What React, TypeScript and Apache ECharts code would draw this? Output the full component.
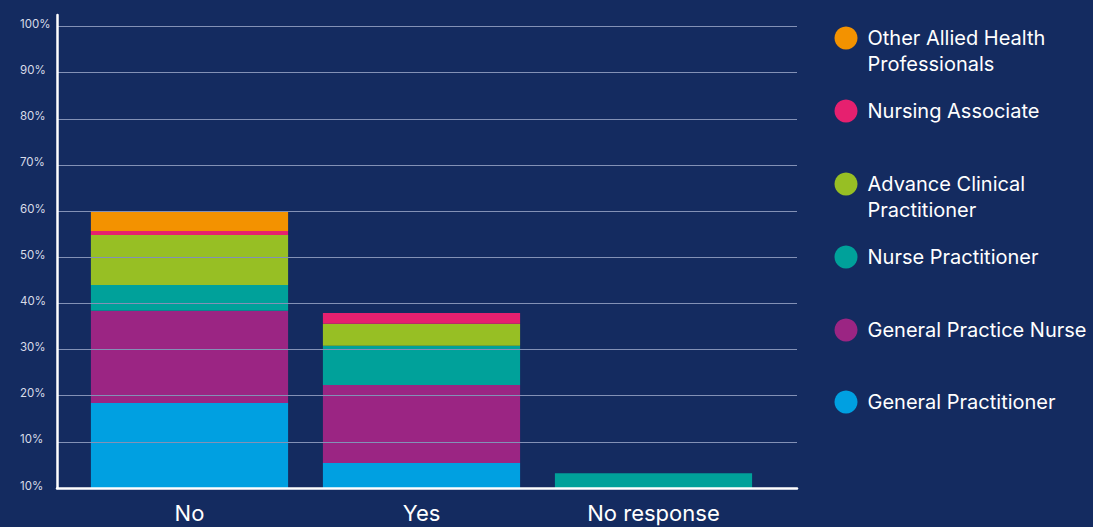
import React, { useEffect, useRef } from "react";
import * as echarts from "echarts";

const categories = ["No", "Yes", "No response"];
const seriesNames = [
  "General Practitioner",
  "General Practice Nurse",
  "Nurse Practitioner",
  "Advance Clinical Practitioner",
  "Nursing Associate",
  "Other Allied Health Professionals",
];
const generalPractitioner = [18.4, 5.4, 0];
const generalPracticeNurse = [20.0, 16.9, 0];
const nursePractitioner = [5.6, 8.5, 3.2];
const advanceClinicalPractitioner = [10.8, 4.8, 0];
const nursingAssociate = [0.9, 2.3, 0];
const otherAlliedHealth = [4.3, 0, 0];
const yTickLabels = ["10%", "10%", "20%", "30%", "40%", "50%", "60%", "70%", "80%", "90%", "100%"];

const colors = ["#00A0E1", "#9B2583", "#00A19A", "#97BF24", "#E6206F", "#F39200"];
const values = [
  generalPractitioner,
  generalPracticeNurse,
  nursePractitioner,
  advanceClinicalPractitioner,
  nursingAssociate,
  otherAlliedHealth,
];

const legendOrder = [5, 4, 3, 2, 1, 0];
const legendLabels: Record<string, string> = {
  "Other Allied Health Professionals": "\nOther Allied Health\nProfessionals",
  "Advance Clinical Practitioner": "\nAdvance Clinical\nPractitioner",
};
const legendCenters = [38, 111, 184, 257, 330, 402];

const FONT = "Inter, 'Open Sans', sans-serif";

export default function App() {
  const ref = useRef<HTMLDivElement>(null);
  useEffect(() => {
    document.body.style.margin = "0";
    document.body.style.background = "#142b60";
    const chart = echarts.init(ref.current!, null, { renderer: "svg" });
    const top = 15;
    const height = 473;
    const yMax = 102.5;

    const legends = legendOrder.map((si, i) => {
      const name = seriesNames[si];
      const twoLine = !!legendLabels[name];
      return {
        data: [name],
        left: 834.5,
        top: legendCenters[i] - (twoLine ? 39 : 13),
        orient: "vertical",
        padding: 0,
        icon: "circle",
        itemWidth: 23,
        itemHeight: 23,
        itemGap: 0,
        selectedMode: false,
        formatter: (n: string) => legendLabels[n] || n,
        textStyle: {
          color: "#ffffff",
          fontSize: 20,
          fontFamily: FONT,
          lineHeight: 26,
          padding: [0, 0, 0, 5],
        },
      };
    });

    const option: any = {
      animation: false,
      backgroundColor: "#142b60",
      grid: [
        { left: 57, top, width: 740, height },
        { left: 73.5, top, width: 696, height },
      ],
      xAxis: [
        {
          type: "category",
          gridIndex: 0,
          data: categories,
          axisLine: { show: true, lineStyle: { color: "#ffffff", width: 2.5 } },
          axisTick: { show: false },
          axisLabel: { show: false },
          splitLine: { show: false },
          z: 5,
        },
        {
          type: "category",
          gridIndex: 1,
          data: categories,
          axisLine: { show: false },
          axisTick: { show: false },
          axisLabel: {
            color: "#ffffff",
            fontSize: 22,
            lineHeight: 16,
            fontFamily: FONT,
            margin: 17,
          },
        },
      ],
      yAxis: [
        {
          type: "value",
          gridIndex: 0,
          min: 0,
          max: yMax,
          interval: 10,
          axisLine: { show: true, lineStyle: { color: "#ffffff", width: 2.5 } },
          axisTick: { show: false },
          splitLine: {
            show: true,
            showMaxLine: false,
            lineStyle: { color: "#8391b6", width: 1.2 },
          },
          axisLabel: {
            margin: 37,
            align: "left",
            verticalAlign: "bottom",
            lineHeight: 5,
            color: "#d8dce8",
            fontSize: 11.5,
            fontFamily: FONT,
            showMaxLabel: false,
            formatter: (v: number) => {
              const idx = Math.round(v / 10);
              return Math.abs(v - idx * 10) < 1e-6 ? yTickLabels[idx] ?? "" : "";
            },
          },
          z: 5,
        },
        {
          type: "value",
          gridIndex: 1,
          min: 0,
          max: yMax,
          show: false,
          splitLine: { show: false },
        },
      ],
      legend: legends,
      series: seriesNames.map((name, i) => ({
        name,
        type: "bar",
        stack: "total",
        xAxisIndex: 1,
        yAxisIndex: 1,
        barWidth: "85%",
        data: values[i],
        itemStyle: { color: colors[i] },
        emphasis: { disabled: true },
      })),
    };
    chart.setOption(option);
    return () => chart.dispose();
  }, []);
  return (
    <div
      ref={ref}
      style={{ position: "fixed", left: 0, top: 0, width: 1093, height: 527 }}
    />
  );
}
